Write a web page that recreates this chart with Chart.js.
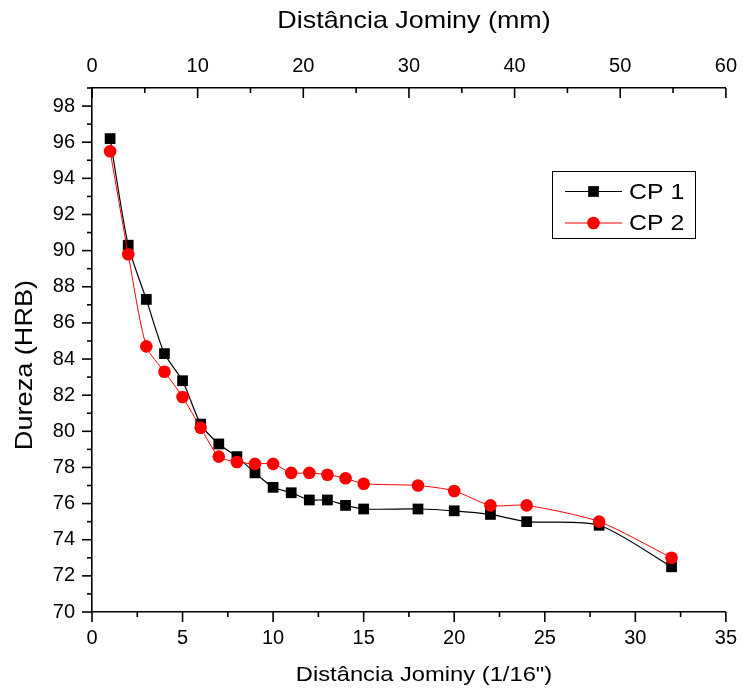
<!DOCTYPE html>
<html>
<head>
<meta charset="utf-8">
<script src="https://cdn.jsdelivr.net/npm/chart.js@4.4.0/dist/chart.umd.min.js"></script>
<style>
  html, body { margin: 0; padding: 0; background: #fff; }
</style>
</head>
<body>
<canvas id="chart" width="751" height="695"></canvas>
<script>
// Distância Jominy (1/16") positions
const jominy = [1, 2, 3, 4, 5, 6, 7, 8, 9, 10, 11, 12, 13, 14, 15, 18, 20, 22, 24, 28, 32];
const cp1 = [96.2, 90.3, 87.3, 84.3, 82.8, 80.4, 79.3, 78.6, 77.7, 76.9, 76.6, 76.2, 76.2, 75.9, 75.7, 75.7, 75.6, 75.4, 75.0, 74.8, 72.5];
const cp2 = [95.5, 89.8, 84.7, 83.3, 81.9, 80.2, 78.6, 78.3, 78.2, 78.2, 77.7, 77.7, 77.6, 77.4, 77.1, 77.0, 76.7, 75.9, 75.9, 75.0, 73.0];

const xTicks = [0, 5, 10, 15, 20, 25, 30, 35];
const xTopTicks = [0, 10, 20, 30, 40, 50, 60];
const yTicks = [70, 72, 74, 76, 78, 80, 82, 84, 86, 88, 90, 92, 94, 96, 98];

const FONT = "'Liberation Sans', Arial, sans-serif";
Chart.defaults.font.family = FONT;
Chart.defaults.color = '#000';

const toPoints = ys => ys.map((y, i) => ({ x: jominy[i], y: y }));

// major/minor tick marks, drawn from each scale's pixel mapping
const tickMarks = {
  id: 'tickMarks',
  afterDraw(chart) {
    const ctx = chart.ctx;
    const defs = [
      { id: 'x', step: 2.5, major: 5 },
      { id: 'x2', step: 5, major: 10 },
      { id: 'y', step: 1, major: 2 }
    ];
    ctx.save();
    ctx.strokeStyle = '#000';
    ctx.lineWidth = 1.6;
    defs.forEach(d => {
      const s = chart.scales[d.id];
      for (let v = s.min; v <= s.max + 1e-9; v += d.step) {
        const len = Math.abs(v / d.major - Math.round(v / d.major)) < 1e-6 ? 10 : 5;
        const p = s.getPixelForValue(v);
        ctx.beginPath();
        if (d.id === 'y') {
          ctx.moveTo(s.right, p);
          ctx.lineTo(s.right - len, p);
        } else if (d.id === 'x') {
          ctx.moveTo(p, s.top);
          ctx.lineTo(p, s.top + len);
        } else {
          ctx.moveTo(p, s.bottom);
          ctx.lineTo(p, s.bottom + len);
        }
        ctx.stroke();
      }
    });
    ctx.restore();
  }
};

// the original text is a little wider than Arial, so stretch it a bit
function wideText(ctx, text, x, y, size, sx, rot) {
  ctx.save();
  ctx.translate(x, y);
  if (rot) ctx.rotate(rot);
  ctx.scale(sx, 1);
  ctx.font = size + 'px ' + FONT;
  ctx.fillStyle = '#000';
  ctx.textAlign = 'center';
  ctx.textBaseline = 'middle';
  ctx.fillText(text, 0, 0);
  ctx.restore();
}

const axisTitles = {
  id: 'axisTitles',
  afterDraw(chart) {
    const ctx = chart.ctx;
    wideText(ctx, 'Distância Jominy (mm)', 414, 21, 24, 1.12);
    wideText(ctx, 'Distância Jominy (1/16")', 424, 675, 21, 1.13);
    wideText(ctx, 'Dureza (HRB)', 25, 365, 24, 1.13, -Math.PI / 2);
  }
};

// boxed legend inside the plot, like the original
const boxLegend = {
  id: 'boxLegend',
  afterDraw(chart) {
    const ctx = chart.ctx;
    const left = 552, top = 171, w = 143, h = 67;
    ctx.save();
    ctx.strokeStyle = '#000';
    ctx.lineWidth = 1;
    ctx.strokeRect(left + 0.5, top + 0.5, w, h);
    const rows = [191.5, 223];
    chart.data.datasets.slice().sort((a, b) => b.order - a.order).forEach((ds, i) => {
      const y = rows[i];
      ctx.strokeStyle = ds.borderColor;
      ctx.lineWidth = ds.borderWidth;
      ctx.beginPath();
      ctx.moveTo(565, y);
      ctx.lineTo(622, y);
      ctx.stroke();
      ctx.fillStyle = ds.pointBackgroundColor;
      Chart.helpers.drawPoint(ctx, {
        pointStyle: ds.pointStyle, radius: ds.pointRadius, rotation: 0, borderWidth: 0
      }, 593.5, y);
      ctx.save();
      ctx.translate(629, y + 1);
      ctx.scale(1.13, 1);
      ctx.fillStyle = '#000';
      ctx.font = '22px ' + FONT;
      ctx.textBaseline = 'middle';
      ctx.textAlign = 'left';
      ctx.fillText(ds.label, 0, 0);
      ctx.restore();
    });
    ctx.restore();
  }
};

new Chart(document.getElementById('chart'), {
  type: 'line',
  data: {
    datasets: [
      {
        label: 'CP 1',
        data: toPoints(cp1),
        order: 1,
        borderColor: '#000',
        borderWidth: 1.2,
        pointStyle: 'rect',
        pointRadius: 7.6,
        pointBackgroundColor: '#000',
        pointBorderWidth: 0,
        tension: 0.25
      },
      {
        label: 'CP 2',
        data: toPoints(cp2),
        order: 0,
        borderColor: '#ff0000',
        borderWidth: 1,
        pointStyle: 'circle',
        pointRadius: 6.3,
        pointBackgroundColor: '#ff0000',
        pointBorderWidth: 0,
        tension: 0.25
      }
    ]
  },
  options: {
    responsive: false,
    animation: false,
    layout: { padding: { left: 0, right: 14, top: 0, bottom: 0 } },
    plugins: { legend: { display: false }, tooltip: { enabled: false } },
    scales: {
      x: {
        type: 'linear',
        position: 'bottom',
        min: 0,
        max: 35,
        afterBuildTicks: s => { s.ticks = xTicks.map(v => ({ value: v })); },
        afterFit: s => { s.height = 83; },
        grid: { display: true, drawOnChartArea: false, drawTicks: false },
        border: { display: true, color: '#000', width: 1.6 },
        ticks: { font: { size: 20 }, padding: 14, maxRotation: 0 },
        title: { display: false }
      },
      x2: {
        type: 'linear',
        position: 'top',
        display: true,
        min: 0,
        max: 60,
        afterBuildTicks: s => { s.ticks = xTopTicks.map(v => ({ value: v })); },
        afterFit: s => { s.height = 88; },
        grid: { display: true, drawOnChartArea: false, drawTicks: false },
        border: { display: true, color: '#000', width: 1.6 },
        ticks: { font: { size: 20 }, padding: 10, maxRotation: 0 },
        title: { display: false }
      },
      y: {
        type: 'linear',
        min: 70,
        max: 99,
        afterBuildTicks: s => { s.ticks = yTicks.map(v => ({ value: v })); },
        afterFit: s => { s.width = 92; },
        grid: { display: true, drawOnChartArea: false, drawTicks: false },
        border: { display: true, color: '#000', width: 1.6 },
        ticks: { font: { size: 20 }, padding: 17 },
        title: { display: false }
      }
    }
  },
  plugins: [tickMarks, axisTitles, boxLegend]
});
</script>
</body>
</html>
